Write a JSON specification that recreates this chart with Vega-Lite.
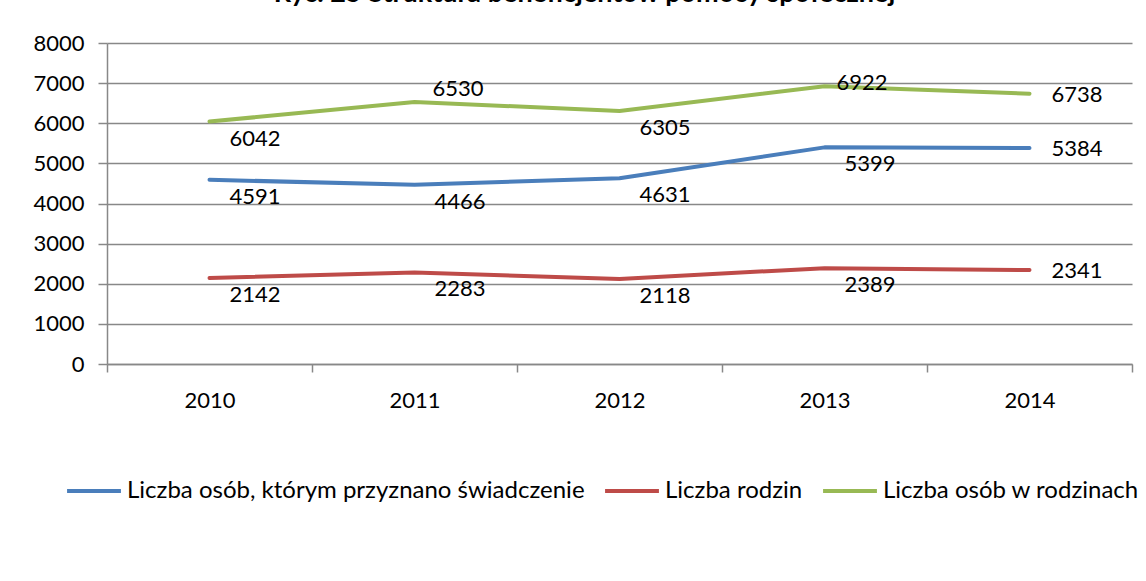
{
  "$schema": "https://vega.github.io/schema/vega-lite/v6.json",
  "width": 1025,
  "height": 321,
  "autosize": {"type": "none"},
  "padding": {"left": 107, "top": 43, "right": 14, "bottom": 217},
  "background": "white",
  "title": {
    "text": "Ryc. 25 Struktura beneficjentów pomocy społecznej",
    "font": "Lato",
    "fontSize": 27,
    "fontWeight": "bold",
    "color": "#000000",
    "anchor": "middle",
    "offset": 3,
    "dx": -35,
    "baseline": "alphabetic"
  },
  "config": {
    "view": {"stroke": null},
    "font": "Lato"
  },
  "data": {
    "values": [
      {"rok": "2010", "seria": "Liczba osób, którym przyznano świadczenie", "wartosc": 4591},
      {"rok": "2011", "seria": "Liczba osób, którym przyznano świadczenie", "wartosc": 4466},
      {"rok": "2012", "seria": "Liczba osób, którym przyznano świadczenie", "wartosc": 4631},
      {"rok": "2013", "seria": "Liczba osób, którym przyznano świadczenie", "wartosc": 5399},
      {"rok": "2014", "seria": "Liczba osób, którym przyznano świadczenie", "wartosc": 5384},
      {"rok": "2010", "seria": "Liczba rodzin", "wartosc": 2142},
      {"rok": "2011", "seria": "Liczba rodzin", "wartosc": 2283},
      {"rok": "2012", "seria": "Liczba rodzin", "wartosc": 2118},
      {"rok": "2013", "seria": "Liczba rodzin", "wartosc": 2389},
      {"rok": "2014", "seria": "Liczba rodzin", "wartosc": 2341},
      {"rok": "2010", "seria": "Liczba osób w rodzinach", "wartosc": 6042},
      {"rok": "2011", "seria": "Liczba osób w rodzinach", "wartosc": 6530},
      {"rok": "2012", "seria": "Liczba osób w rodzinach", "wartosc": 6305},
      {"rok": "2013", "seria": "Liczba osób w rodzinach", "wartosc": 6922},
      {"rok": "2014", "seria": "Liczba osób w rodzinach", "wartosc": 6738}
    ]
  },
  "encoding": {
    "x": {
      "field": "rok",
      "type": "nominal",
      "scale": {"type": "band", "paddingInner": 0, "paddingOuter": 0},
      "axis": {
        "title": null,
        "labelAngle": 0,
        "labelFont": "Lato",
        "labelFontSize": 22,
        "labelColor": "#000000",
        "labelPadding": 18,
        "tickBand": "extent",
        "tickSize": 8,
        "tickColor": "#888888",
        "tickWidth": 1.5,
        "domainColor": "#888888",
        "domainWidth": 1.5,
        "grid": false
      }
    },
    "y": {
      "field": "wartosc",
      "type": "quantitative",
      "scale": {"domain": [0, 8000], "nice": false},
      "axis": {
        "title": null,
        "values": [0, 1000, 2000, 3000, 4000, 5000, 6000, 7000, 8000],
        "format": "d",
        "labelFont": "Lato",
        "labelFontSize": 22,
        "labelColor": "#000000",
        "labelPadding": 14,
        "tickSize": 9,
        "tickColor": "#888888",
        "tickWidth": 1.5,
        "domainColor": "#888888",
        "domainWidth": 1.5,
        "grid": true,
        "gridColor": "#888888",
        "gridWidth": 1.5
      }
    }
  },
  "layer": [
    {
      "mark": {"type": "line", "strokeWidth": 4, "interpolate": "linear", "strokeCap": "round", "strokeJoin": "round"},
      "encoding": {
        "color": {
          "field": "seria",
          "type": "nominal",
          "sort": ["Liczba osób, którym przyznano świadczenie", "Liczba rodzin", "Liczba osób w rodzinach"],
          "scale": {
            "domain": ["Liczba osób, którym przyznano świadczenie", "Liczba rodzin", "Liczba osób w rodzinach"],
            "range": ["#4a7ebb", "#be4b48", "#98b954"]
          },
          "legend": {
            "title": null,
            "orient": "none",
            "legendX": -42,
            "legendY": 419,
            "direction": "horizontal",
            "symbolType": "stroke",
            "symbolSize": 2900,
            "symbolStrokeWidth": 4,
            "labelFont": "Lato",
            "labelFontSize": 24,
            "labelColor": "#000000",
            "labelOffset": 4,
            "columnPadding": 12,
            "labelLimit": 700
          }
        }
      }
    },
    {
      "transform": [{"filter": "datum.rok != '2014' && !(datum.seria == 'Liczba osób w rodzinach' && (datum.rok == '2011' || datum.rok == '2013'))"}],
      "mark": {"type": "text", "align": "left", "baseline": "middle", "dx": 20, "dy": 17, "font": "Lato", "fontSize": 22, "color": "#000000"},
      "encoding": {"text": {"field": "wartosc", "type": "quantitative", "format": "d"}}
    },
    {
      "transform": [{"filter": "datum.seria == 'Liczba osób w rodzinach' && datum.rok == '2011'"}],
      "mark": {"type": "text", "align": "left", "baseline": "middle", "dx": 18, "dy": -13, "font": "Lato", "fontSize": 22, "color": "#000000"},
      "encoding": {"text": {"field": "wartosc", "type": "quantitative", "format": "d"}}
    },
    {
      "transform": [{"filter": "datum.seria == 'Liczba osób w rodzinach' && datum.rok == '2013'"}],
      "mark": {"type": "text", "align": "left", "baseline": "middle", "dx": 12, "dy": -3, "font": "Lato", "fontSize": 22, "color": "#000000"},
      "encoding": {"text": {"field": "wartosc", "type": "quantitative", "format": "d"}}
    },
    {
      "transform": [{"filter": "datum.rok == '2014'"}],
      "mark": {"type": "text", "align": "left", "baseline": "middle", "dx": 22, "dy": 1, "font": "Lato", "fontSize": 22, "color": "#000000"},
      "encoding": {"text": {"field": "wartosc", "type": "quantitative", "format": "d"}}
    }
  ]
}
